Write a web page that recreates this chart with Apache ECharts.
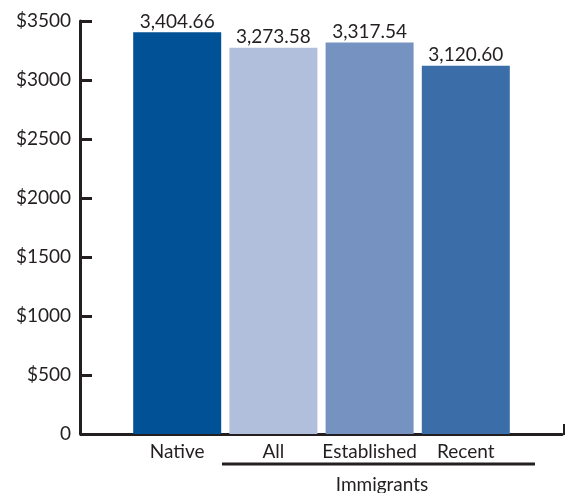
<!DOCTYPE html>
<html>
<head>
<meta charset="utf-8">
<script src="https://cdn.jsdelivr.net/npm/echarts@6/dist/echarts.min.js"></script>
<style>html,body{margin:0;padding:0;background:#fff}#c{width:565px;height:493px}</style>
</head>
<body>
<div id="c"></div>
<script>
var categories = ['', 'Native', 'All', 'Established', 'Recent', ''];
var values = [null, 3404.66, 3273.58, 3317.54, 3120.60, null];
var barColors = [null, '#005195', '#b1bfdd', '#7692c1', '#3b6ea9', null];
var yTicks = [0, 500, 1000, 1500, 2000, 2500, 3000, 3500];
var groupLabel = 'Immigrants';

var FONT = 'Lato';
var INK = '#231f20';
var FS = 19;
var chart = echarts.init(document.getElementById('c'), null, {renderer: 'canvas'});
chart.setOption({
  animation: false,
  grid: {left: 81, right: -1, top: 21, bottom: 59, containLabel: false},
  xAxis: {
    type: 'category',
    data: categories,
    boundaryGap: false,
    axisLine: {lineStyle: {color: INK, width: 3}},
    axisTick: {show: false},
    axisLabel: {color: INK, fontFamily: FONT, fontSize: FS, margin: 8, interval: 0}
  },
  yAxis: {
    type: 'value',
    min: 0, max: 3500, interval: 500,
    offset: 1,
    splitLine: {show: false},
    axisLine: {show: true, lineStyle: {color: INK, width: 3}},
    axisTick: {show: true, inside: true, length: 12, lineStyle: {color: INK, width: 3}},
    axisLabel: {color: INK, fontFamily: FONT, fontSize: FS, margin: 9, padding: [0, 0, 4, 0],
      formatter: function (v) { return yTicks.indexOf(v) >= 0 ? (v === 0 ? '0' : '$' + v) : ''; }}
  },
  series: [{
    type: 'bar',
    barWidth: 88,
    data: values.map(function (v, i) {
      return {value: v, itemStyle: {color: barColors[i] || '#000'}};
    }),
    label: {
      show: true, position: 'top', distance: 1, color: INK, fontFamily: FONT, fontSize: FS,
      formatter: function (p) {
        return p.value == null ? '' : p.value.toLocaleString('en-US', {minimumFractionDigits: 2, maximumFractionDigits: 2});
      }
    }
  }],
  graphic: [
    {type: 'line', shape: {x1: 222, y1: 464, x2: 535, y2: 464}, style: {stroke: INK, lineWidth: 3}},
    {type: 'line', shape: {x1: 564, y1: 424, x2: 564, y2: 435}, style: {stroke: INK, lineWidth: 2}},
    {type: 'text', x: 382, y: 485, style: {text: groupLabel, fill: INK, font: FS + 'px ' + FONT, textAlign: 'center', textVerticalAlign: 'middle'}}
  ]
});
</script>
</body>
</html>
